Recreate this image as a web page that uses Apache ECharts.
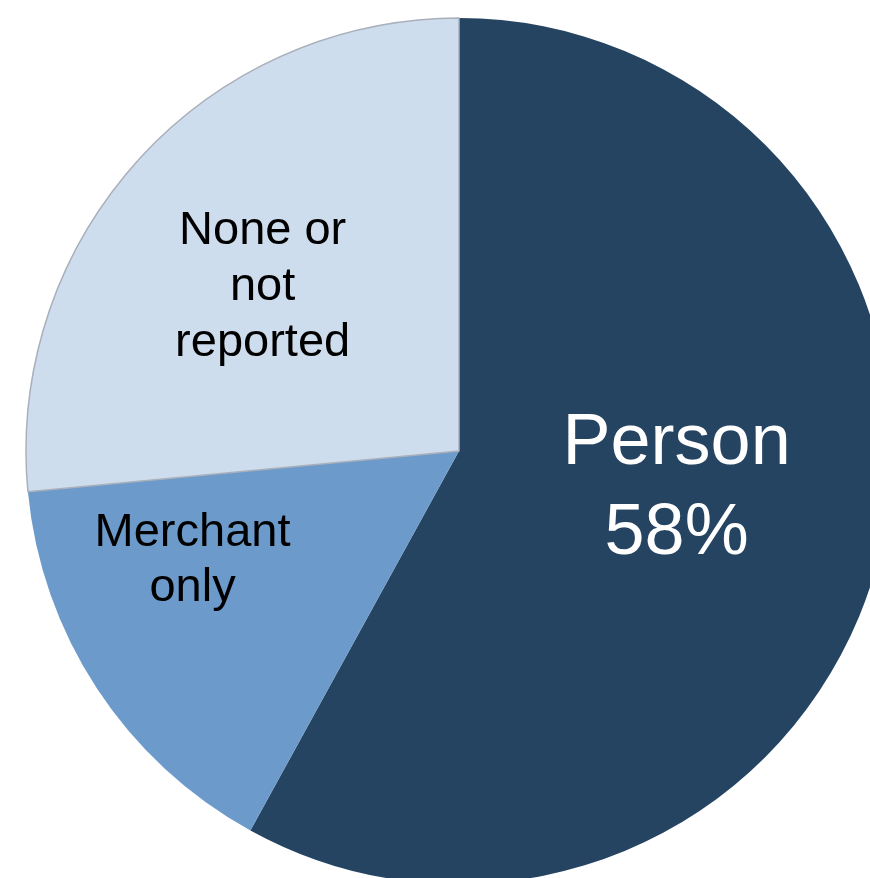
<!DOCTYPE html>
<html>
<head>
<meta charset="utf-8">
<script src="https://cdn.jsdelivr.net/npm/echarts@6/dist/echarts.min.js"></script>
<style>
  html, body { margin: 0; padding: 0; background: #ffffff; }
  #chart { width: 870px; height: 878px; }
</style>
</head>
<body>
<div id="chart"></div>
<script>
// Share of cases by who was identified
const categories = ['Person', 'Merchant only', 'None or not reported'];
const shares = [58, 15.5, 26.5];
const labelTexts = ['Person\n58%', 'Merchant\nonly', 'None or\nnot\nreported'];

const sliceColors = ['#254462', '#6c9bcb', '#cedded'];
const labelStyles = [
  { color: '#ffffff', fontSize: 72, lineHeight: 90, offset: [5, -16] },
  { color: '#000000', fontSize: 47, lineHeight: 55, offset: [-83, -11] },
  { color: '#000000', fontSize: 47, lineHeight: 56, offset: [-34, -16] }
];

const chart = echarts.init(document.getElementById('chart'), null, { renderer: 'canvas' });

const data = categories.map((name, i) => ({
  name: name,
  value: shares[i],
  itemStyle: {
    color: sliceColors[i],
    borderColor: i === 2 ? '#aab0bb' : sliceColors[i],
    borderWidth: i === 2 ? 1.5 : 0
  },
  label: {
    formatter: labelTexts[i],
    color: labelStyles[i].color,
    fontSize: labelStyles[i].fontSize,
    lineHeight: labelStyles[i].lineHeight,
    offset: labelStyles[i].offset
  }
}));

chart.setOption({
  animation: false,
  backgroundColor: '#ffffff',
  series: [{
    type: 'pie',
    center: [459, 451],
    radius: [0, 433],
    startAngle: 90,
    clockwise: true,
    avoidLabelOverlap: false,
    label: {
      show: true,
      position: 'inside',
      fontFamily: '"Liberation Sans", Arial, Helvetica, sans-serif',
      align: 'center',
      verticalAlign: 'middle'
    },
    labelLine: { show: false },
    emphasis: { disabled: true },
    data: data
  }]
});
</script>
</body>
</html>
